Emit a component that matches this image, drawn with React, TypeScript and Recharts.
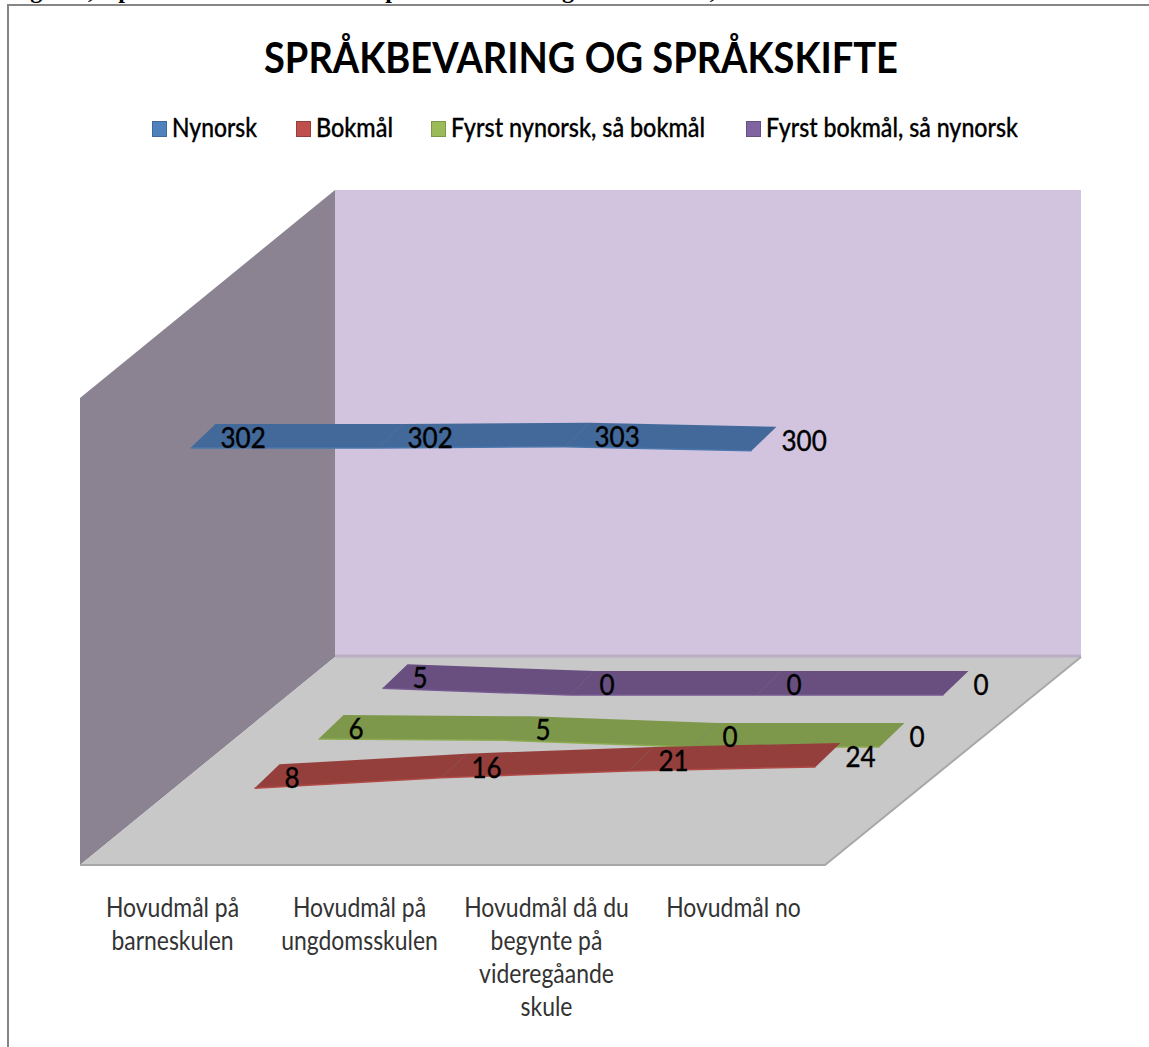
import { ComposedChart, Customized, Legend, Line, XAxis, YAxis } from "recharts";

// Values
const categories = ["Hovudmål på barneskulen", "Hovudmål på ungdomsskulen", "Hovudmål då du begynte på videregåande skule", "Hovudmål no"];
const tickLines = [
  ["Hovudmål på", "barneskulen"],
  ["Hovudmål på", "ungdomsskulen"],
  ["Hovudmål då du", "begynte på", "videregåande", "skule"],
  ["Hovudmål no"],
];
const nynorsk = [302, 302, 303, 300];
const bokmal = [8, 16, 21, 24];
const nynorskBokmal = [6, 5, 0, 0];
const bokmalNynorsk = [5, 0, 0, 0];

const seriesNames = ["Nynorsk", "Bokmål", "Fyrst nynorsk, så bokmål", "Fyrst bokmål, så nynorsk"];
const seriesKeys = ["nynorsk", "bokmal", "nynorskBokmal", "bokmalNynorsk"];
const ribbonColors = ["#42699a", "#953f3d", "#7e984b", "#684f80"];
const edgeColors = ["#4a76ab", "#b04a47", "#8cab50", "#75598f"];
const legendColors = ["#4f81bd", "#c0504d", "#9bbb59", "#8064a2"];

const chartData = categories.map((name, i) => ({
  name,
  nynorsk: nynorsk[i],
  bokmal: bokmal[i],
  nynorskBokmal: nynorskBokmal[i],
  bokmalNynorsk: bokmalNynorsk[i],
}));

// 3D look: each series sits deeper in the box, the ribbon has a slanted depth
const depthX = (i: number) => 17 + 64 * i;
const depthY = (i: number) => -14 - 52 * i;
const RIBBON_DX = 25;
const RIBBON_DY = -24;
const FONT = "Lato, Carlito, sans-serif";

function Box() {
  return (
    <g>
      <polygon points="80,398 335,190 335,657 80,865" fill="#8b8391" />
      <polygon points="335,190 1081,190 1081,657 335,657" fill="#d2c4de" />
      <polygon points="80,865 335,657 1081,657 825,865" fill="#c8c8c8" />
      <polyline points="335,656 1081,656" fill="none" stroke="#b9aec4" strokeWidth={3} />
      <polyline points="80,865 825,865 1081,657" fill="none" stroke="#a8a8a8" strokeWidth={2} />
    </g>
  );
}

function ribbonDot(series: number) {
  return (props: any) => {
    const { cx, cy, index, points } = props;
    const next = points?.[index + 1];
    if (!next) return <g key={index} />;
    const x0 = cx + depthX(series);
    const y0 = cy + depthY(series);
    const x1 = next.x + depthX(series);
    const y1 = next.y + depthY(series);
    return (
      <g key={index}>
        <polygon
          points={`${x0},${y0} ${x1},${y1} ${x1 + RIBBON_DX},${y1 + RIBBON_DY} ${x0 + RIBBON_DX},${y0 + RIBBON_DY}`}
          fill={ribbonColors[series]}
        />
        <line x1={x0} y1={y0} x2={x1} y2={y1} stroke={edgeColors[series]} strokeWidth={1.5} />
        {index > 0 && (
          <line x1={x0} y1={y0} x2={x0 + RIBBON_DX} y2={y0 + RIBBON_DY} stroke="#000" strokeOpacity={0.12} />
        )}
      </g>
    );
  };
}

function valueLabel(series: number) {
  return (props: any) => (
    <text
      key={props.index}
      transform={`translate(${props.x + depthX(series) + 30},${props.y + depthY(series)}) scale(0.93,1)`}
      fontFamily={FONT}
      fontSize={28}
      stroke="#000"
      strokeWidth={0.4}
      fill="#000"
    >
      {props.value}
    </text>
  );
}

function CategoryTick({ x, y, index }: any) {
  return (
    <text transform={`translate(${x - 1},${y}) scale(0.85,1)`} textAnchor="middle" fontFamily={FONT} fontSize={27} fill="#333">
      {tickLines[index].map((line, i) => (
        <tspan key={line} x={0} dy={i === 0 ? 0 : 33}>
          {line}
        </tspan>
      ))}
    </text>
  );
}

const legendX = [152, 296, 431, 746];
const legendTextWidth = [85, 77, 254, 252];

function LegendRow() {
  return (
    <svg width={1149} height={40} style={{ display: "block" }}>
      {seriesNames.map((name, i) => (
        <g key={name}>
          <rect x={legendX[i] + 0.5} y={12.5} width={14} height={15} fill={legendColors[i]} stroke={ribbonColors[i]} />
          <text
            x={legendX[i] + 20}
            y={28}
            fontFamily={FONT}
            fontSize={26}
            fontWeight={500}
            stroke="#000"
            strokeWidth={0.3}
            fill="#000"
            textLength={legendTextWidth[i]}
            lengthAdjust="spacingAndGlyphs"
          >
            {name}
          </text>
        </g>
      ))}
    </svg>
  );
}

// only the descenders of the line above the chart are visible at the top edge
const captionWords = ["Figur", "2,", "språkval", "språkskifte", "og", "hovudmål,"];
const captionX = [9, 76, 109, 376, 550, 607];

export default function App() {
  return (
    <div style={{ position: "absolute", left: 0, top: 0, width: 1149, height: 1047, overflow: "hidden", background: "#fff" }}>
      <div style={{ position: "absolute", left: 7, top: 4, width: 1300, height: 1200, border: "2px solid #868686" }} />
      <svg width={1149} height={100} style={{ position: "absolute", left: 0, top: 0 }}>
        {captionWords.map((word, i) => (
          <text key={word} x={captionX[i]} y={-2} fontFamily="'Liberation Serif', serif" fontWeight={700} fontSize={24} fill="#000">
            {word}
          </text>
        ))}
        <text
          x={264}
          y={73}
          fontFamily={FONT}
          fontSize={42}
          fontWeight={700}
          fill="#000"
          textLength={634}
          lengthAdjust="spacingAndGlyphs"
        >
          SPRÅKBEVARING OG SPRÅKSKIFTE
        </text>
      </svg>
      <ComposedChart
        width={1149}
        height={1047}
        data={chartData}
        margin={{ top: 358, left: 80, right: 321, bottom: 0 }}
        style={{ position: "absolute", left: 0, top: 0 }}
      >
        <Customized component={<Box />} />
        <XAxis dataKey="name" scale="band" axisLine={false} tickLine={false} tick={<CategoryTick />} interval={0} height={182} tickMargin={46} />
        <YAxis domain={[0, 350]} hide />
        <Legend content={<LegendRow />} verticalAlign="top" wrapperStyle={{ top: 109, left: 0, width: 1149 }} />
        {[3, 2, 1, 0].map((s) => (
          <Line
            key={seriesKeys[s]}
            dataKey={seriesKeys[s]}
            name={seriesNames[s]}
            stroke="none"
            dot={ribbonDot(s)}
            activeDot={false}
            isAnimationActive={false}
          />
        ))}
        {[3, 2, 1, 0].map((s) => (
          <Line
            key={seriesKeys[s] + "-label"}
            dataKey={seriesKeys[s]}
            stroke="none"
            dot={false}
            activeDot={false}
            legendType="none"
            label={valueLabel(s)}
            isAnimationActive={false}
          />
        ))}
      </ComposedChart>
    </div>
  );
}
